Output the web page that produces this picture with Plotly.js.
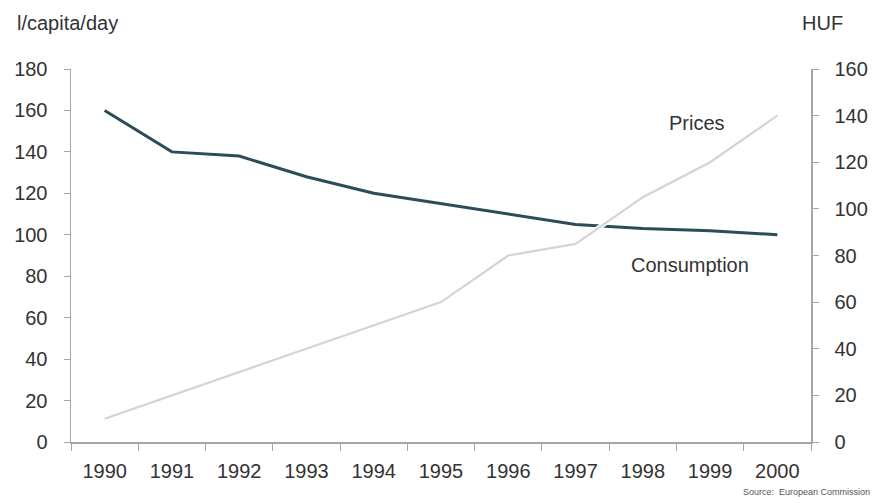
<!DOCTYPE html>
<html>
<head>
<meta charset="utf-8">
<script src="https://cdn.plot.ly/plotly-3.0.1.min.js"></script>
<style>html,body{margin:0;padding:0;background:#fff;}#chart{width:877px;height:503px;}</style>
</head>
<body>
<div id="chart"></div>
<script>
const years = ['1990','1991','1992','1993','1994','1995','1996','1997','1998','1999','2000'];
const consumption = [160, 140, 138, 128, 120, 115, 110, 105, 103, 102, 100];
const prices = [10, 20, 30, 40, 50, 60, 80, 85, 105, 120, 140];
const leftTicks = [0,20,40,60,80,100,120,140,160,180];
const rightTicks = [0,20,40,60,80,100,120,140,160];

const FONT = '"Liberation Sans", Arial, sans-serif';
const TXT = '#333333';
const AX = '#a6a6a6';

const traces = [
  {x: years, y: consumption, type: 'scatter', mode: 'lines', yaxis: 'y', name: 'Consumption',
   line: {color: '#2c4c58', width: 3}},
  {x: years, y: prices, type: 'scatter', mode: 'lines', yaxis: 'y2', name: 'Prices outline', hoverinfo: 'skip',
   line: {color: '#ffffff', width: 5}},
  {x: years, y: prices, type: 'scatter', mode: 'lines', yaxis: 'y2', name: 'Prices',
   line: {color: '#d4d4d4', width: 2.2}}
];

const layout = {
  width: 877, height: 503,
  margin: {l: 71, r: 66, t: 69, b: 61},
  paper_bgcolor: '#ffffff', plot_bgcolor: '#ffffff',
  showlegend: false,
  font: {family: FONT, size: 20, color: TXT},
  xaxis: {type: 'category', range: [-0.5, 10.5], tickson: 'boundaries', ticks: 'outside', ticklen: 7, tickcolor: AX,
    showline: true, linecolor: AX, linewidth: 1.5, showgrid: false, zeroline: false,
    tickfont: {family: FONT, size: 20, color: TXT}, ticklabelstandoff: 10},
  yaxis: {range: [0, 180], tickvals: leftTicks, ticks: 'outside', ticklen: 6, tickcolor: AX,
    showline: true, linecolor: AX, linewidth: 1.5, showgrid: false, zeroline: false,
    tickfont: {family: FONT, size: 20, color: TXT}, ticklabelstandoff: 12},
  yaxis2: {range: [0, 160], tickvals: rightTicks, overlaying: 'y', side: 'right', ticks: 'outside', ticklen: 6, tickcolor: AX,
    showline: true, linecolor: AX, linewidth: 1.5, showgrid: false, zeroline: false,
    tickfont: {family: FONT, size: 20, color: TXT}, ticklabelstandoff: 12},
  annotations: [
    {xref: 'paper', yref: 'paper', x: (15-71)/740, y: 1 + 46/373, xanchor: 'left', yanchor: 'middle', showarrow: false,
     text: 'l/capita/day', font: {family: FONT, size: 20, color: TXT}},
    {xref: 'paper', yref: 'paper', x: (800-71)/740, y: 1 + 46/373, xanchor: 'left', yanchor: 'middle', showarrow: false,
     text: 'HUF', font: {family: FONT, size: 20, color: TXT}},
    {xref: 'paper', yref: 'paper', x: (697-71)/740, y: (442-123)/373, xanchor: 'center', yanchor: 'middle', showarrow: false,
     text: 'Prices', font: {family: FONT, size: 20, color: TXT}},
    {xref: 'paper', yref: 'paper', x: (690-71)/740, y: (442-265)/373, xanchor: 'center', yanchor: 'middle', showarrow: false,
     text: 'Consumption', font: {family: FONT, size: 20, color: TXT}},
    {xref: 'paper', yref: 'paper', x: (872-71)/740, y: -(492-442)/373, xanchor: 'right', yanchor: 'middle', showarrow: false,
     text: 'Source:  European Commission', font: {family: FONT, size: 9, color: '#555555'}}
  ]
};

Plotly.newPlot('chart', traces, layout, {displayModeBar: false, staticPlot: true});
</script>
</body>
</html>
